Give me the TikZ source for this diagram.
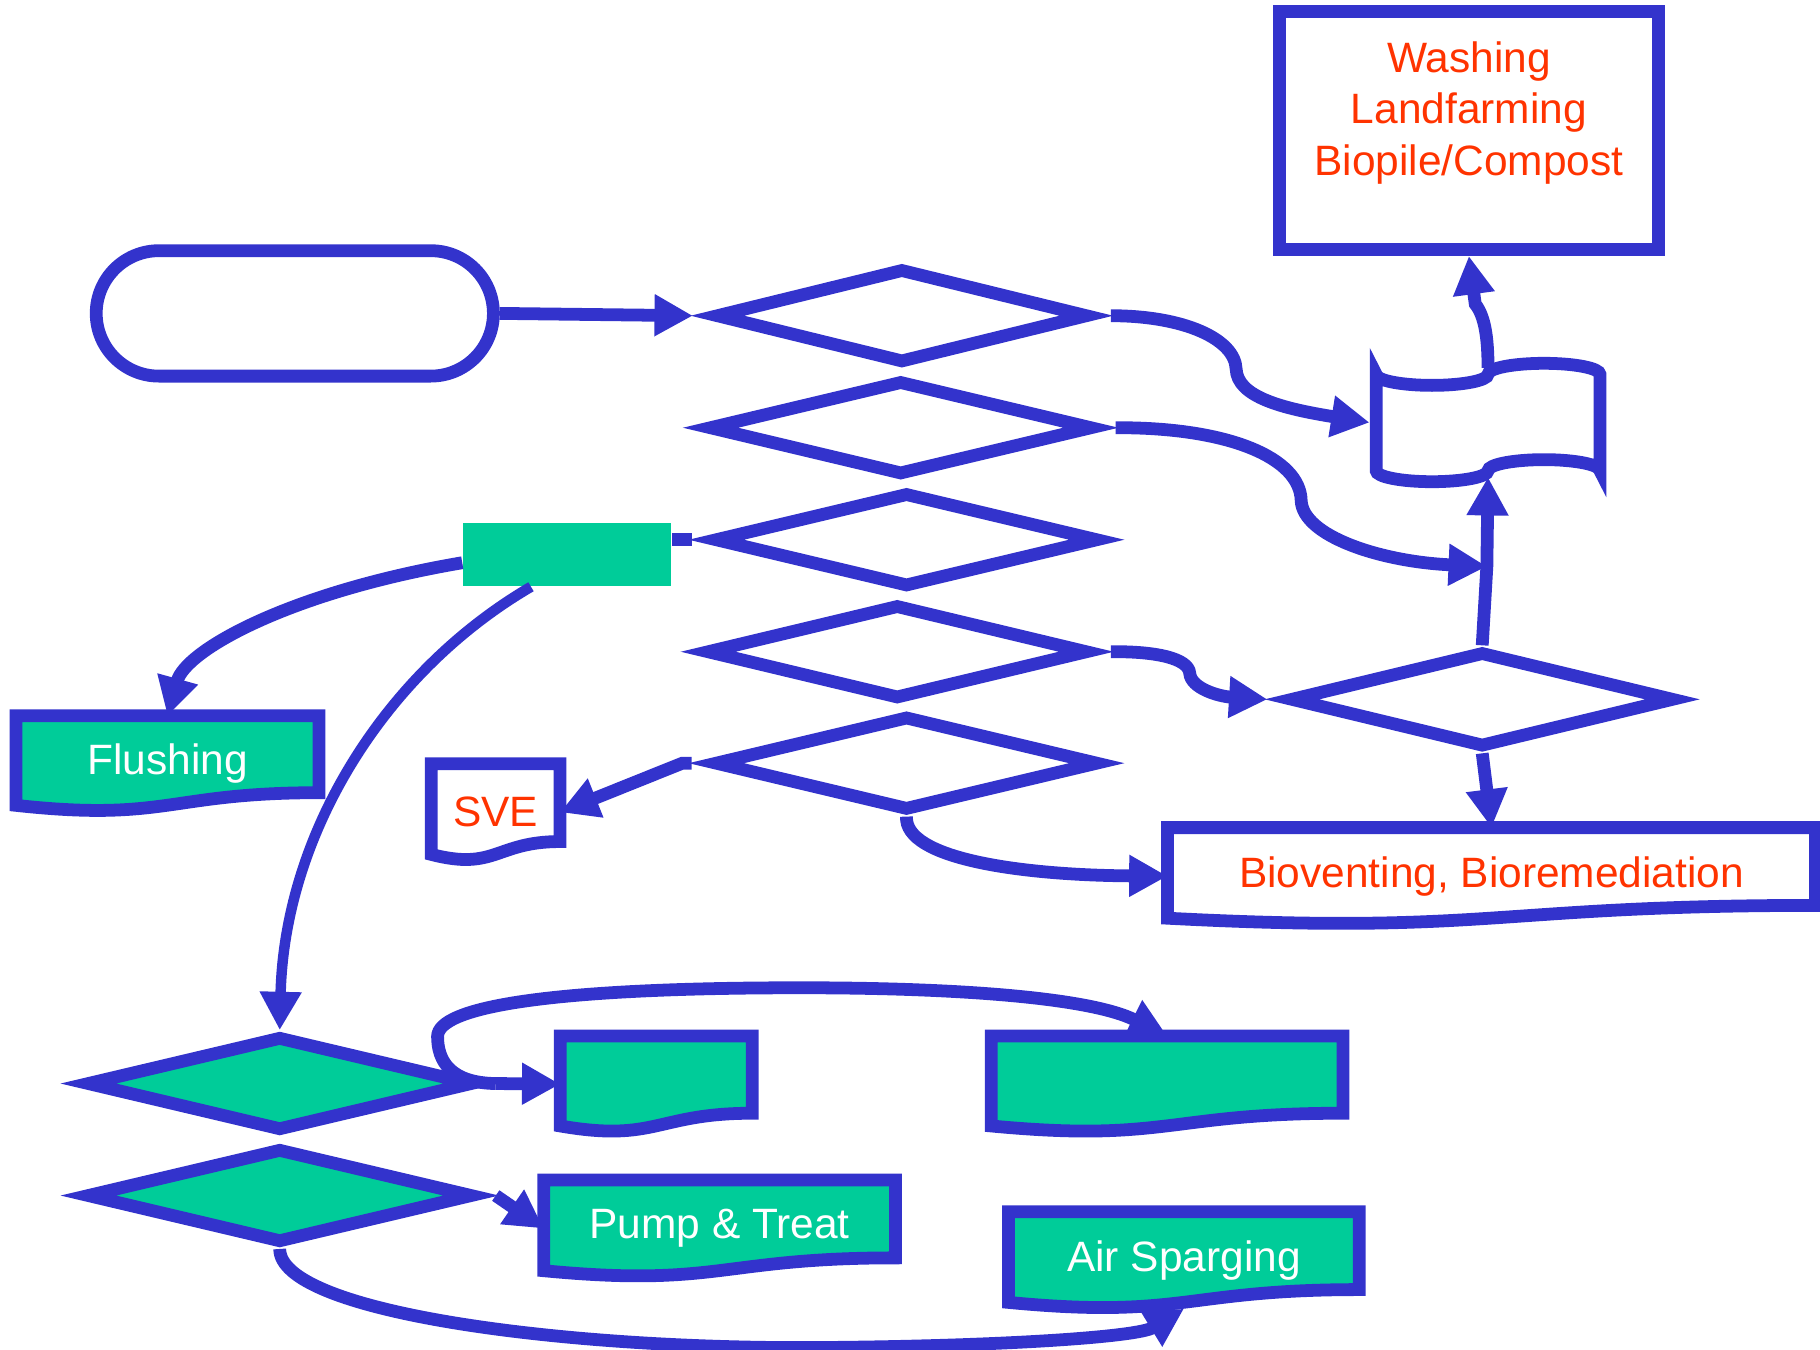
\documentclass[tikz,border=0pt]{standalone}
\usepackage{fontspec}
\setmainfont{Liberation Sans}
\usepackage{tikz}
\usetikzlibrary{arrows.meta}
\usetikzlibrary{shapes.geometric}
\usetikzlibrary{calc}
\usetikzlibrary{backgrounds}
\definecolor{flowblue}{RGB}{51,51,204}
\definecolor{flowgreen}{RGB}{0,204,153}
\definecolor{flowred}{RGB}{255,51,0}
\tikzset{dia/.style = {diamond, draw=flowblue, fill=white, line width=0.11cm, inner sep=0,
                       minimum width=3.4cm, minimum height=0.82cm, outer xsep=1.5mm, outer ysep=0.5mm}}
\tikzset{gdia/.style = {dia, fill=flowgreen, minimum width=3.42cm}}
\tikzset{term/.style = {rectangle, rounded corners=0.54cm, draw=flowblue, fill=white,
                        line width=0.11cm, minimum width=3.42cm, minimum height=1.08cm}}
\tikzset{doc/.style = {inner sep=0, outer sep=0, font=\fontsize{10.4}{12.6}\selectfont}}
\tikzset{docline/.style = {draw=flowblue, line width=0.11cm}}
\tikzset{link/.style = {draw=flowblue, line width=0.11cm}}
\tikzset{flow/.style = {link, -{Triangle[length=0.33cm, width=0.34cm]}}}
\newcommand{\docpath}[1]{(#1.north west) -- (#1.north east)
  -- ($(#1.north east)!0.802!(#1.south east)$)
  .. controls ($(#1.north)!0.802!(#1.south)$) and ($(#1.north)!1.107!(#1.south)$)
  .. ($(#1.north west)!0.934!(#1.south west)$) -- cycle}

\begin{document}
\begin{tikzpicture}[x=0.01cm, y=-0.01cm]
      \useasboundingbox (0,0) rectangle (1568,1163);

      \node[term] (term) at (254,270) {};
      \node[dia, minimum width=3.3cm] (d1) at (777,272) {};
      \node[dia] (d2) at (776,368.5) {};
      \node[dia] (d3) at (781,465) {};
      \node[dia, minimum width=3.38cm] (d4) at (773,561.5) {};
      \node[dia] (d5) at (781,657.5) {};
      \node[dia, minimum height=0.83cm] (d6) at (1277,602.5) {};
      \node[gdia] (g1) at (241,933.5) {};
      \node[gdia] (g2) at (241,1030) {};
      \node[fill=flowgreen, inner sep=0, minimum width=1.79cm, minimum height=0.54cm] (src) at (488.5,477.8) {};

      \node[rectangle, draw=flowblue, line width=0.11cm, minimum width=3.26cm, minimum height=2.05cm] (wash) at (1265.5,112.5) {};
      \node[doc, align=center, text=flowred] (washtext) at (1265.5,97) {Washing\\Landfarming\\Biopile/Compost};

      \node[doc, text=white, minimum width=2.61cm, minimum height=0.825cm] (flush) at (144.3,658) {Flushing};
      \node[doc, text=flowred, minimum width=1.11cm, minimum height=0.835cm] (sve) at (427,699.8) {SVE};
      \node[doc, text=flowred, minimum width=5.58cm, minimum height=0.835cm] (bio) at (1285,754.8) {Bioventing, Bioremediation};
      \node[doc, minimum width=1.653cm, minimum height=0.83cm] (e1) at (565.4,934) {};
      \node[doc, minimum width=3.03cm, minimum height=0.83cm] (e2) at (1005.5,934) {};
      \node[doc, text=white, minimum width=3.03cm, minimum height=0.837cm] (pump) at (620,1058.4) {Pump \& Treat};
      \node[doc, text=white, minimum width=3.02cm, minimum height=0.835cm] (air) at (1020,1085.8) {Air Sparging};
      \node[doc, outer sep=0.055cm, minimum width=1.93cm, minimum height=0.83cm] (tape) at (1282,364) {};

      \begin{scope}[on background layer]
        \draw[docline, fill=flowgreen] \docpath{flush};
        \draw[docline, fill=white] \docpath{sve};
        \draw[docline, fill=white] \docpath{bio};
        \draw[docline, fill=flowgreen] \docpath{e1};
        \draw[docline, fill=flowgreen] \docpath{e2};
        \draw[docline, fill=flowgreen] \docpath{pump};
        \draw[docline, fill=flowgreen] \docpath{air};
      \end{scope}
      \begin{scope}[on background layer, shift={(tape.center)}]
        \draw[docline, fill=white] (-96.4,-41.5)
          arc[start angle=180, end angle=0, x radius=48.2, y radius=9.5]
          arc[start angle=180, end angle=360, x radius=48.2, y radius=9.5] -- (96.4,41.5)
          arc[start angle=0, end angle=-180, x radius=48.2, y radius=9.5]
          arc[start angle=0, end angle=180, x radius=48.2, y radius=9.5] -- cycle;
      \end{scope}

      \coordinate (bend) at (1281,488);

      \draw[flow] (term.east) -- (d1.west);
      \draw[flow] (d1.east) .. controls (1020,272) and (1064,292) .. (1065,318)
        .. controls (1066,342) and (1105,352) .. (tape.west);
      \draw[flow] (d2.east) .. controls (1060,368) and (1120,395) .. (1121,431)
        .. controls (1122,462) and (1190,484) .. (bend);
      \draw[flow] (d4.east) .. controls (995,561) and (1024,567) .. (1025,580)
        .. controls (1026,593) and (1050,600) .. (d6.west);
      \draw[flow] (d6.north) -- (bend) -- (tape.south);
      \draw[flow] (tape.north) .. controls (1282,290) and (1279,272) .. (1271,262) -- (wash.south);
      \draw[flow] (d6.south) -- (bio.north);
      \draw[flow] (d5.south) .. controls (779,740) and (880,754) .. (bio.west);
      \draw[flow] (d5.west) -- ++(-8,0) -- (sve.east);
      \draw[link] (d3.west) -- (d3.west -| src.east);
      \draw[flow] ([yshift=-0.07cm]src.west) .. controls (250,510) and (160,560) .. (flush.north);
      \draw[flow, line width=0.09cm] ([xshift=-0.31cm]src.south) .. controls (330,580) and (245,720) .. (g1.north);

      \draw[flow] (g1.east) -- (e1.west);
      \draw[flow] (g1.east) .. controls (388,933) and (377,914) .. (377,893)
        .. controls (377,868) and (470,851) .. (690,851)
        .. controls (830,851) and (940,860) .. (e2.north); %loop over the top
      \draw[flow] (g2.east) -- (pump.west);
      \draw[flow] (g2.south) .. controls (241,1130) and (480,1162) .. (700,1161)
        .. controls (860,1160) and (980,1152) .. (air.south);
\end{tikzpicture}
\end{document}
